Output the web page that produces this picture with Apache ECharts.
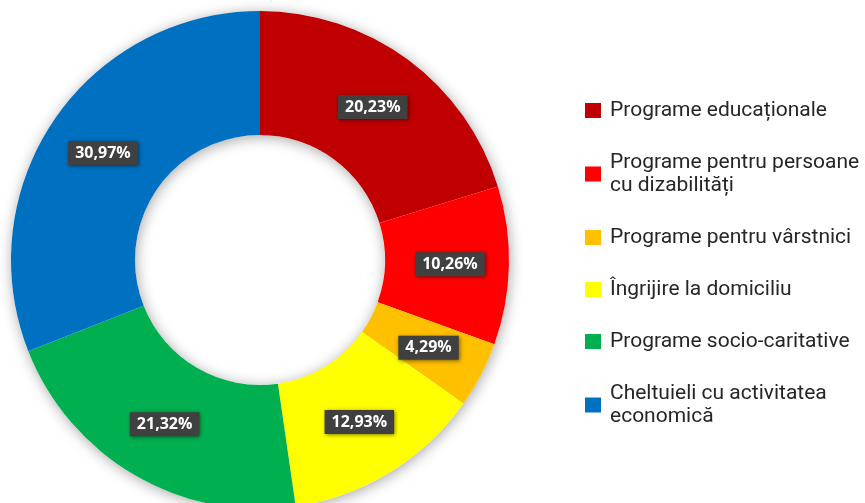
<!DOCTYPE html>
<html>
<head>
<meta charset="utf-8">
<script src="https://cdn.jsdelivr.net/npm/echarts@6/dist/echarts.min.js"></script>
<style>html,body{margin:0;padding:0;background:#fff;}#c{width:865px;height:503px;}</style>
</head>
<body>
<div id="c"></div>
<script>
const categories = ["Programe educaționale", "Programe pentru persoane cu dizabilități", "Programe pentru vârstnici", "Îngrijire la domiciliu", "Programe socio-caritative", "Cheltuieli cu activitatea economică"];
const legendLabels = ["Programe educaționale", "Programe pentru persoane\ncu dizabilități", "Programe pentru vârstnici", "Îngrijire la domiciliu", "Programe socio-caritative", "Cheltuieli cu activitatea\neconomică"];
const values = [20.23, 10.26, 4.29, 12.93, 21.32, 30.97];
const valueLabels = ["20,23%", "10,26%", "4,29%", "12,93%", "21,32%", "30,97%"];
const colors = ["#C00000", "#FF0000", "#FFC000", "#FFFF00", "#00B050", "#0070C0"];

const chart = echarts.init(document.getElementById('c'), null, {renderer: 'canvas'});
chart.setOption({
  animation: false,
  backgroundColor: '#ffffff',
  color: colors,
  legend: {
    orient: 'vertical',
    left: 580,
    top: 94,
    icon: 'rect',
    itemWidth: 16,
    itemHeight: 15,
    itemGap: 29,
    data: categories,
    formatter: function (name) { return legendLabels[categories.indexOf(name)]; },
    textStyle: { fontFamily: 'Roboto', fontSize: 21, lineHeight: 23, color: '#262626', padding: [0,0,0,4] }
  },
  series: [
    {
      type: 'pie',
      silent: true,
      center: [260, 260],
      radius: [125, 249],
      startAngle: 90,
      label: { show: false },
      labelLine: { show: false },
      itemStyle: { color: '#ffffff', shadowBlur: 14, shadowColor: 'rgba(0,0,0,0.35)', shadowOffsetX: 1, shadowOffsetY: 2 },
      data: [{ value: 1, name: '' }],
      legendHoverLink: false
    },
    {
      type: 'pie',
      center: [260, 260],
      radius: [125, 249],
      startAngle: 90,
      clockwise: true,
      data: categories.map((c, i) => ({ name: c, value: values[i] })),
      itemStyle: { borderWidth: 0 },
      label: {
        show: true,
        position: 'inside',
        formatter: function (p) { return valueLabels[p.dataIndex]; },
        fontFamily: 'Open Sans',
        fontWeight: 'bold',
        fontSize: 16,
        color: '#ffffff',
        backgroundColor: '#404040',
        padding: [5, 7, 3, 7],
        shadowBlur: 4,
        shadowColor: 'rgba(0,0,0,0.5)',
        shadowOffsetX: 1,
        shadowOffsetY: 1
      },
      labelLine: { show: false }
    }
  ]
});
</script>
</body>
</html>
